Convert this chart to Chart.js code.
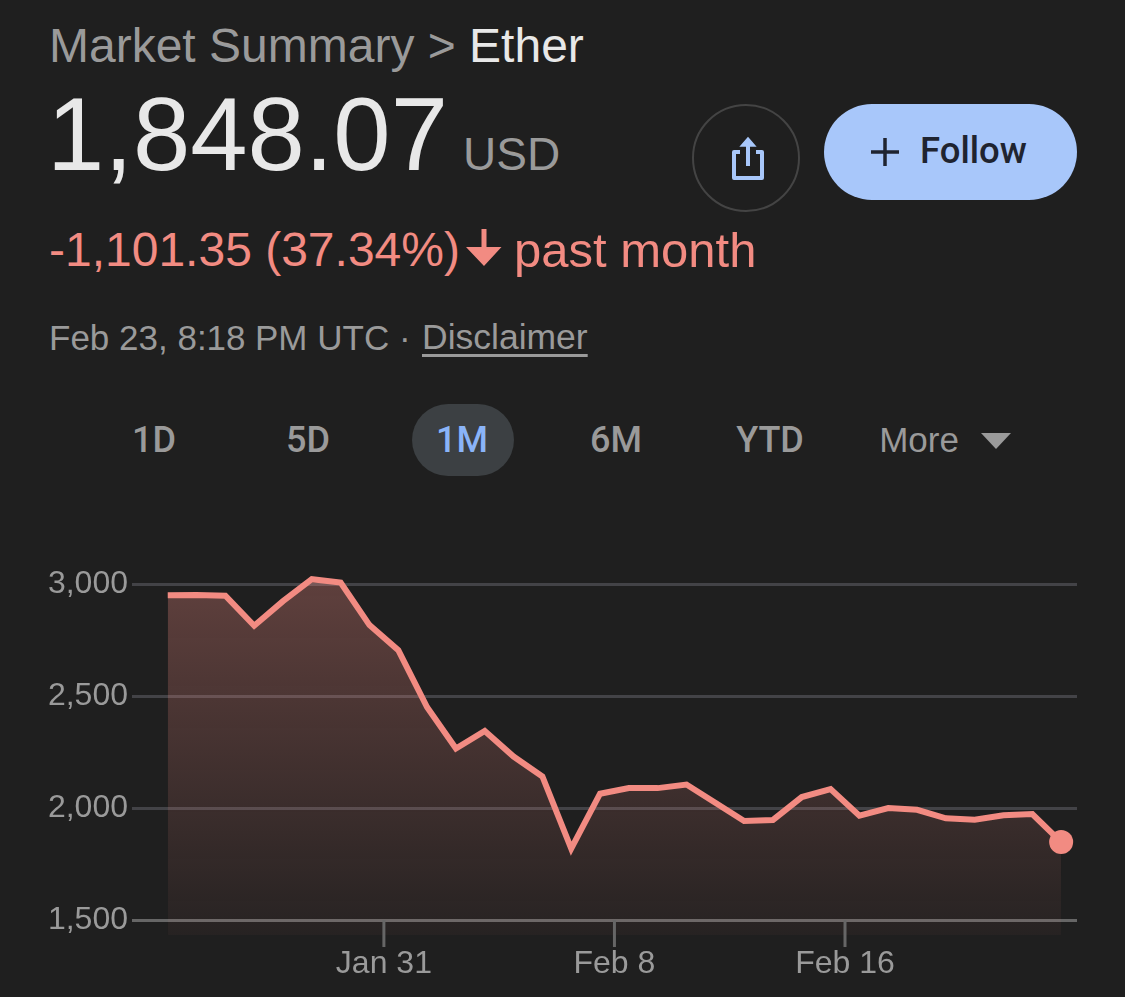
<!DOCTYPE html>
<html>
<head>
<meta charset="utf-8">
<title>Ether</title>
<script src="https://cdn.jsdelivr.net/npm/chart.js@4"></script>
<style>
html, body { margin: 0; padding: 0; background: #1f1f1f; }
body { position: relative; width: 1125px; height: 997px; overflow: hidden; font-family: "Liberation Sans", sans-serif; }
.abs { position: absolute; white-space: nowrap; line-height: 1; }
#crumb { left: 49px; top: 22px; font-size: 48px; color: #9a9a9a; }
#crumb b { font-weight: normal; color: #e8e8e8; }
#price { left: 47px; top: 83px; font-size: 103px; color: #e8e8e8; }
#usd { left: 463px; top: 131px; font-size: 46px; color: #9a9a9a; }
#change, #past { top: 226px; font-size: 48px; color: #f28b82; }
#change { left: 49px; }
#past { left: 514px; font-size: 49px; }
#stamp, #stampEnd, #disclaimer { top: 320px; font-size: 35px; color: #9a9a9a; }
#stamp { left: 49px; }
#stampEnd { left: 255px; }
#disclaimer { left: 422px; font-size: 35.5px; text-decoration: underline; text-decoration-thickness: 3px; text-underline-offset: 5px; }
#share { left: 692px; top: 104px; width: 104px; height: 104px; border: 2.5px solid #444; border-radius: 50%; }
#follow { left: 824px; top: 104px; width: 253px; height: 96px; border-radius: 48px; background: #a8c7fa; }
#followText { left: 920px; top: 133px; font-family: Roboto, sans-serif; font-size: 36.5px; font-weight: 500; color: #1f2430; }
.tab { top: 422px; font-family: Roboto, sans-serif; font-size: 36px; font-weight: 500; color: #9a9a9a; transform: translateX(-50%); }
#pill { left: 412px; top: 404px; width: 102px; height: 72px; border-radius: 36px; background: #3c4043; }
#chartBox { position: absolute; left: 0; top: 540px; width: 1125px; height: 457px; }
</style>
</head>
<body>
<div class="abs" id="crumb">Market Summary &gt; <b>Ether</b></div>
<div class="abs" id="price">1,848.07</div>
<div class="abs" id="usd">USD</div>
<div class="abs" id="change">-1,101.35 (37.34%)</div>
<svg class="abs" style="left:466px;top:229px" width="36" height="37" viewBox="0 0 36 37"><path d="M15.5 0h5v18h15L18 37 0 18h15.5z" fill="#f28b82"/></svg>
<div class="abs" id="past">past month</div>
<div class="abs" id="stamp">Feb 23, 8:18</div>
<div class="abs" id="stampEnd">PM UTC ·</div>
<div class="abs" id="disclaimer">Disclaimer</div>

<div class="abs" id="share"></div>
<svg class="abs" style="left:730px;top:136px" width="36" height="46" viewBox="0 0 36 46" fill="none" stroke="#a8c7fa" stroke-width="4">
  <path d="M10 16H4v26h28V16h-6" stroke-linejoin="round"/>
  <path d="M18 30V6"/>
  <path d="M11 10l7-8 7 8z" fill="#a8c7fa" stroke-width="1.5"/>
</svg>
<div class="abs" id="follow"></div>
<svg class="abs" style="left:870px;top:137px" width="30" height="30"><path d="M15 1v28M1 15h28" stroke="#1f2430" stroke-width="3.5"/></svg>
<div class="abs" id="followText">Follow</div>

<div class="abs" id="pill"></div>
<div class="abs tab" style="left:154px">1D</div>
<div class="abs tab" style="left:308px">5D</div>
<div class="abs tab" style="left:462px;color:#8ab4f8">1M</div>
<div class="abs tab" style="left:616px">6M</div>
<div class="abs tab" style="left:770px">YTD</div>
<div class="abs tab" style="left:919px;font-family:'Liberation Sans';font-weight:normal;font-size:35px">More</div>
<svg class="abs" style="left:981px;top:433px" width="30" height="16"><path d="M0 0h30L15 16z" fill="#9a9a9a"/></svg>

<div id="chartBox"><canvas id="priceChart"></canvas></div>

<script>
// days counted from Jan 31, one sample a day
const dayOffsets = [-7.5, -6.5, -5.5, -4.5, -3.5, -2.5, -1.5, -0.5, 0.5, 1.5, 2.5, 3.5, 4.5, 5.5, 6.5, 7.5,
    8.5, 9.5, 10.5, 11.5, 12.5, 13.5, 14.5, 15.5, 16.5, 17.5, 18.5, 19.5, 20.5, 21.5, 22.5, 23.5];
const prices = [2950, 2951, 2948, 2814, 2924, 3022, 3007, 2817, 2705, 2450, 2266, 2344, 2230, 2141, 1819, 2064,
    2089, 2089, 2105, 2024, 1942, 1947, 2049, 2085, 1966, 2000, 1992, 1954, 1948, 1968, 1973, 1848.07];
const yTicks = [1500, 2000, 2500, 3000];
const xTicks = [0, 8, 16];
const xTickLabels = ['Jan 31', 'Feb 8', 'Feb 16'];

const lineColor = '#f28b82';
const labelColor = '#9a9a9a';

// tick marks hang from the 1,500 line, not from the bottom of the plot
const dateTicks = {
    id: 'dateTicks',
    afterDatasetsDraw(chart) {
        const c = chart.ctx;
        const top = chart.scales.y.getPixelForValue(1500);
        c.save();
        c.strokeStyle = '#666';
        c.lineWidth = 3;
        xTicks.forEach(t => {
            const x = chart.scales.x.getPixelForValue(t);
            c.beginPath();
            c.moveTo(x, top);
            c.lineTo(x, top + 27);
            c.stroke();
        });
        c.restore();
    }
};

new Chart(document.getElementById('priceChart').getContext('2d'), {
    type: 'line',
    data: {
        datasets: [{
            data: dayOffsets.map((d, i) => ({ x: d, y: prices[i] })),
            borderColor: lineColor,
            borderWidth: 6,
            borderJoinStyle: 'miter',
            tension: 0,
            fill: 'start',
            backgroundColor: ctx => {
                const area = ctx.chart.chartArea;
                if (!area) return 'transparent';
                const g = ctx.chart.ctx.createLinearGradient(0, area.top + 20, 0, area.bottom);
                g.addColorStop(0, 'rgba(242,139,130,0.30)');
                g.addColorStop(1, 'rgba(242,139,130,0.04)');
                return g;
            },
            pointRadius: ctx => ctx.dataIndex === prices.length - 1 ? 12 : 0,
            pointBackgroundColor: lineColor,
            pointBorderWidth: 0,
            clip: false
        }]
    },
    options: {
        responsive: true,
        maintainAspectRatio: false,
        animation: false,
        layout: { autoPadding: false, padding: { top: 0, right: 48, left: 0, bottom: 0 } },
        plugins: { legend: { display: false }, tooltip: { enabled: false } },
        scales: {
            x: {
                type: 'linear',
                min: -8.74,
                max: 24.05,
                border: { display: false },
                grid: { display: false },
                afterBuildTicks: scale => { scale.ticks = xTicks.map(v => ({ value: v })); },
                afterFit: scale => { scale.height = 62; },
                ticks: {
                    autoSkip: false,
                    maxRotation: 0,
                    padding: 2,
                    color: labelColor,
                    font: { family: 'Liberation Sans', size: 32 },
                    callback: v => xTickLabels[xTicks.indexOf(v)]
                }
            },
            y: {
                min: 1433.2,
                max: 3093.2,
                border: { display: false },
                grid: {
                    lineWidth: 3,
                    drawTicks: false,
                    color: c => c.tick.value === 1500 ? '#666' : '#434347'
                },
                afterBuildTicks: scale => { scale.ticks = yTicks.map(v => ({ value: v })); },
                afterFit: scale => { scale.width = 132; },
                ticks: {
                    padding: 4,
                    color: labelColor,
                    font: { family: 'Liberation Sans', size: 32 },
                    callback: v => v.toLocaleString('en-US')
                }
            }
        }
    },
    plugins: [dateTicks]
});
</script>
</body>
</html>
